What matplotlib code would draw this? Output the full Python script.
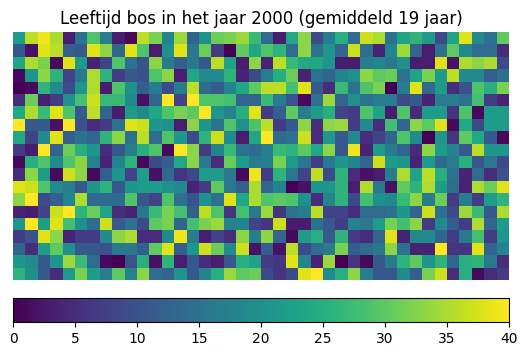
import numpy as np
import matplotlib
matplotlib.use('Agg')
import matplotlib.pyplot as plt

# Leeftijd per cel (20 rijen, 40 kolommen)
leeftijd = [
    [22,36,39,35,3,15,29,17,3,1,36,32,18,34,13,20,31,32,34,27,14,3,24,33,9,17,25,14,37,35,15,23,26,22,9,23,38,19,15,30],
    [11,2,38,36,12,11,38,33,13,38,29,3,20,38,16,31,7,0,30,24,29,26,14,33,15,21,13,37,14,4,18,34,13,3,15,30,19,14,14,5],
    [24,35,32,1,38,22,4,8,29,15,10,33,17,12,16,11,36,23,3,33,4,36,27,24,24,21,3,3,17,18,16,20,3,3,38,2,35,33,35,9],
    [1,21,33,26,8,16,35,26,7,11,10,29,33,3,24,19,19,26,4,9,17,25,31,4,15,13,18,20,33,30,31,15,23,32,22,36,19,19,12,15],
    [0,1,26,19,9,21,35,3,29,20,12,17,9,17,36,14,12,18,24,30,36,36,28,38,11,5,27,15,29,32,0,17,38,14,22,5,10,29,25,32],
    [5,31,3,7,20,28,37,27,27,19,2,13,40,8,40,29,29,28,13,13,27,17,10,1,15,34,13,20,15,17,17,9,11,4,17,17,15,28,7,4],
    [24,35,27,38,29,11,36,13,3,22,19,24,29,32,30,40,21,18,25,38,7,12,30,17,22,25,8,7,29,23,3,29,5,22,22,6,29,1,22,22],
    [40,11,11,2,40,10,5,7,15,38,37,21,20,3,33,21,15,29,20,29,36,7,11,33,5,33,34,7,19,5,28,13,33,30,38,1,24,9,22,22],
    [24,8,19,38,12,15,13,26,33,15,36,14,29,21,9,26,37,19,3,24,40,14,15,37,5,21,11,19,5,8,13,29,19,0,21,6,30,24,11,1],
    [7,3,40,13,31,25,21,5,11,17,25,29,1,40,33,7,18,27,15,14,17,27,26,30,24,33,11,39,4,22,17,13,5,33,22,18,11,36,21,21],
    [1,25,29,19,29,33,18,4,18,26,1,9,12,24,33,16,5,31,22,17,17,32,22,16,7,16,21,18,13,37,22,21,4,22,14,17,25,11,16,9],
    [5,33,22,1,37,33,1,12,21,8,22,2,14,6,9,22,22,16,1,39,7,26,16,8,36,9,26,5,2,3,17,35,23,36,25,15,4,14,5,10],
    [38,37,29,19,17,11,21,26,11,21,22,22,20,19,4,7,30,16,12,35,13,18,0,2,21,21,26,3,35,16,2,30,26,35,22,14,4,35,31,38],
    [33,40,9,12,18,35,14,14,14,29,11,8,29,15,10,20,15,38,24,35,29,30,29,20,5,18,26,9,28,20,19,27,33,17,31,7,17,7,22,26],
    [4,3,8,37,40,26,31,23,5,4,16,27,32,28,12,36,29,6,28,16,34,6,15,17,36,8,8,5,14,14,15,21,13,37,15,9,34,27,11,35],
    [21,40,22,38,28,20,14,37,11,15,9,30,32,13,28,32,34,18,18,8,6,37,3,3,15,11,7,18,16,22,32,28,33,7,19,12,7,35,13,22],
    [7,10,38,33,4,7,7,19,33,35,5,5,19,39,17,3,8,5,33,17,33,13,1,22,25,11,26,7,5,13,38,4,19,19,13,7,16,28,7,21],
    [13,5,22,30,20,11,11,10,16,16,12,30,38,12,21,37,31,19,37,2,12,2,36,9,14,17,32,12,14,16,33,15,4,4,40,6,6,38,13,18],
    [21,19,11,21,34,27,14,1,0,10,25,2,26,3,11,5,3,11,25,23,7,6,38,18,4,34,0,6,1,11,17,26,30,21,26,13,25,26,16,5],
    [26,20,11,5,22,32,22,17,30,18,33,14,13,21,11,18,25,34,30,31,9,6,9,38,40,19,25,33,17,11,11,19,12,32,37,5,25,1,5,7],
]
cbar_ticks = [0, 5, 10, 15, 20, 25, 30, 35, 40]
titel = 'Leeftijd bos in het jaar 2000 (gemiddeld 19 jaar)'

W, H = 527, 357
fig = plt.figure(figsize=(W / 100, H / 100), dpi=100)

# Kaart
ax = fig.add_axes([13 / W, 1 - 280 / H, 496 / W, 248 / H])
im = ax.imshow(np.array(leeftijd), cmap='viridis', vmin=0, vmax=40, interpolation='nearest', aspect='auto')
ax.set_title(titel, fontsize=12)
ax.axis('off')

# Kleurenbalk
cax = fig.add_axes([13 / W, 1 - 322 / H, 496 / W, 24 / H])
cbar = fig.colorbar(im, cax=cax, orientation='horizontal')
cbar.set_ticks(cbar_ticks)

plt.savefig('out.png', dpi=100)
